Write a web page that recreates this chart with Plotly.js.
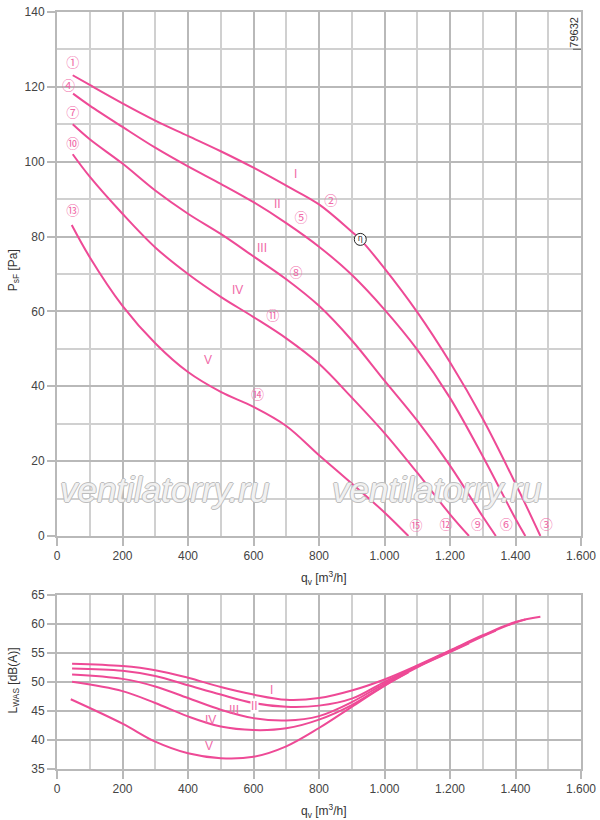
<!DOCTYPE html>
<html>
<head>
<meta charset="utf-8">
<script src="https://cdn.plot.ly/plotly-3.0.1.min.js"></script>
<style>
  html, body { margin: 0; padding: 0; background: #fff; }
  #myDiv { width: 600px; height: 820px; }
</style>
</head>
<body>
<div id="myDiv"></div>
<script>
// pressure curves psF [Pa] vs qv [m3/h], speeds I..V
var qI   = [48, 100, 200, 300, 400, 500, 600, 700, 800, 900, 926, 1000, 1100, 1200, 1300, 1400, 1476];
var pI   = [123.1, 120.5, 115.6, 111, 106.9, 102.8, 98.4, 93.6, 88.6, 81.3, 79.25, 71.5, 59.8, 46.4, 31.3, 14, 0];
var qII  = [49, 100, 200, 300, 400, 500, 600, 700, 800, 900, 1000, 1100, 1200, 1300, 1400, 1430];
var pII  = [118.2, 115, 109.3, 103.75, 98.75, 94.1, 89.2, 83.6, 77.3, 69.8, 60.5, 49.8, 36.9, 21.3, 4.6, 0];
var qIII = [48, 100, 200, 300, 400, 500, 600, 700, 800, 900, 1000, 1100, 1200, 1300, 1340];
var pIII = [110, 106, 99.5, 92.3, 86.1, 80.7, 74.7, 68.6, 61.5, 52.3, 41.5, 30.8, 18.8, 5.2, 0];
var qIV  = [48, 100, 200, 300, 400, 500, 600, 700, 800, 900, 1000, 1100, 1200, 1258];
var pIV  = [102, 96, 86.1, 77.1, 70, 63.9, 58.5, 52.8, 46, 37, 27.5, 16.9, 5.8, 0];
var qV   = [45, 100, 200, 300, 400, 500, 600, 700, 800, 900, 1000, 1073];
var pV   = [83.1, 74.5, 61.5, 51.5, 43.8, 38.5, 34.5, 29.4, 21.6, 14, 6.3, 0];

// sound power LWAS [dB(A)] vs qv
var sqI   = [46, 200, 300, 400, 500, 600, 700, 800, 900, 1000, 1100, 1200, 1300, 1400, 1476];
var lI    = [53.1, 52.7, 52, 50.7, 49.1, 47.8, 46.9, 47.2, 48.5, 50.4, 52.8, 55.4, 58, 60.3, 61.2];
var sqII  = [46, 200, 300, 400, 500, 600, 700, 800, 900, 1000, 1100, 1200, 1300, 1400, 1430];
var lII   = [52.3, 51.9, 51, 49.4, 47.8, 46.35, 45.7, 45.9, 47.1, 50, 52.7, 55.3, 57.9, 60.2, 60.7];
var sqIII = [46, 200, 300, 400, 500, 600, 700, 800, 900, 1000, 1100, 1200, 1300, 1340];
var lIII  = [51.25, 50.5, 49.2, 47.2, 45.2, 43.75, 43.35, 44.1, 46.5, 49.7, 52.6, 55.2, 57.8, 58.8];
var sqIV  = [46, 200, 300, 400, 500, 600, 700, 800, 900, 1000, 1100, 1200, 1258];
var lIV   = [50, 48.4, 46.35, 44.05, 42.3, 41.7, 42, 43.5, 46, 49.4, 52.5, 55.1, 56.6];
var sqV   = [42, 200, 300, 400, 500, 600, 700, 800, 900, 1000, 1073];
var lV    = [47, 42.8, 39.7, 37.7, 36.85, 37.1, 38.9, 42.05, 45.7, 49.3, 51.6];

// circled point numbers on the pressure chart
var numText = ['①','②','③','④','⑤','⑥','⑦','⑧','⑨','⑩','⑪','⑫','⑬','⑭','⑮'];
var numX    = [48, 836, 1494, 35, 745, 1372, 48, 730, 1284, 48, 659, 1188, 48, 612, 1096];
var numY    = [126.2, 89.2, 2.8, 120.1, 84.8, 2.8, 112.7, 70.1, 2.8, 104.6, 58.5, 2.8, 86.5, 37.5, 2.5];

// best efficiency point
var etaX = [926];
var etaY = [79.25];

// roman speed labels
var romans = ['I', 'II', 'III', 'IV', 'V'];
var romTopX = [727, 674, 625, 551, 462];
var romTopY = [96.8, 88.6, 77, 65.6, 46.9];
var romBotX = [655, 604, 540, 469, 465];
var romBotY = [48.65, 45.9, 45.2, 43.4, 39];

var pink = '#ee4a96';
var pinkText = '#f06aa8';
var gridMajor = '#b9b9b9';
var gridMinor = '#d0d0d0';

function curve(x, y, xa, ya) {
  return {
    x: x, y: y, xaxis: xa, yaxis: ya,
    mode: 'lines', type: 'scatter',
    line: { color: pink, width: 2, shape: 'spline', smoothing: 1 },
    hoverinfo: 'skip'
  };
}

var data = [
  curve(qI, pI, 'x', 'y'),
  curve(qII, pII, 'x', 'y'),
  curve(qIII, pIII, 'x', 'y'),
  curve(qIV, pIV, 'x', 'y'),
  curve(qV, pV, 'x', 'y'),
  curve(sqI, lI, 'x2', 'y2'),
  curve(sqII, lII, 'x2', 'y2'),
  curve(sqIII, lIII, 'x2', 'y2'),
  curve(sqIV, lIV, 'x2', 'y2'),
  curve(sqV, lV, 'x2', 'y2'),
  {
    x: numX, y: numY, xaxis: 'x', yaxis: 'y',
    mode: 'text', type: 'scatter', text: numText,
    textposition: 'middle center',
    textfont: { family: 'Noto Sans CJK JP', size: 13, color: pinkText },
    hoverinfo: 'skip'
  },
  {
    x: etaX, y: etaY, xaxis: 'x', yaxis: 'y',
    mode: 'markers+text', type: 'scatter', text: ['η'],
    textposition: 'middle center',
    textfont: { family: 'DejaVu Sans', size: 8, color: '#222' },
    marker: { symbol: 'circle', size: 12, color: '#fff', line: { color: '#222', width: 1 } },
    hoverinfo: 'skip'
  }
];

var tickFont = { family: 'Liberation Sans, Arial, sans-serif', size: 12, color: '#444' };

var xMinor = [100, 300, 500, 700, 900, 1100, 1300, 1500];

function xAxis(anchor) {
  return {
    anchor: anchor, domain: [0, 1], range: [0, 1600],
    tick0: 0, dtick: 200, separatethousands: true,
    showgrid: true, gridcolor: gridMajor, gridwidth: 2,
    minor: { tickmode: 'array', tickvals: xMinor, showgrid: true, gridcolor: gridMinor, gridwidth: 2, ticks: '' },
    ticks: 'outside', ticklen: 8, tickcolor: gridMajor, tickwidth: 2,
    showline: true, linecolor: gridMajor, linewidth: 2, mirror: true,
    zeroline: false, tickfont: tickFont
  };
}

function yAxis(anchor, domain, range, dtick, minorVals) {
  var ax = {
    anchor: anchor, domain: domain, range: range,
    dtick: dtick, tick0: 0,
    showgrid: true, gridcolor: gridMajor, gridwidth: 2,
    ticks: 'outside', ticklen: 8, tickcolor: gridMajor, tickwidth: 2,
    showline: true, linecolor: gridMajor, linewidth: 2, mirror: true,
    zeroline: false, tickfont: tickFont
  };
  if (minorVals) ax.minor = { tickmode: 'array', tickvals: minorVals, showgrid: true, gridcolor: gridMinor, gridwidth: 2, ticks: '' };
  return ax;
}

var titleFont = { family: 'Liberation Sans, Arial, sans-serif', size: 12, color: '#333' };
var wmFont = {
  family: 'Liberation Sans, Arial, sans-serif', size: 35, style: 'italic',
  color: '#f1f1f1',
  shadow: '1px 0 0 #bdbdbd, -1px 0 0 #bdbdbd, 0 1px 0 #bdbdbd, 0 -1px 0 #bdbdbd'
};

var annotations = [
  { xref: 'paper', yref: 'paper', x: 0.51, y: 0.2525, text: 'q<sub>v</sub> [m<sup>3</sup>/h]',
    showarrow: false, font: titleFont, xanchor: 'center', yanchor: 'middle' },
  { xref: 'paper', yref: 'paper', x: 0.51, y: -0.055, text: 'q<sub>v</sub> [m<sup>3</sup>/h]',
    showarrow: false, font: titleFont, xanchor: 'center', yanchor: 'middle' },
  { xref: 'paper', yref: 'paper', x: -0.082, y: 0.659, text: 'P<sub>sF</sub> [Pa]', textangle: -90,
    showarrow: false, font: titleFont, xanchor: 'center', yanchor: 'middle' },
  { xref: 'paper', yref: 'paper', x: -0.082, y: 0.117, text: 'L<sub>WAS</sub> [dB(A)]', textangle: -90,
    showarrow: false, font: titleFont, xanchor: 'center', yanchor: 'middle' },
  { xref: 'paper', yref: 'paper', x: 0.986, y: 0.9735, text: '79632', textangle: -90,
    showarrow: false, font: { family: 'Liberation Sans, Arial, sans-serif', size: 11, color: '#333' },
    xanchor: 'center', yanchor: 'middle' },
  { xref: 'x', yref: 'y', x: 327, y: 12.3, text: 'ventilatorry.ru', showarrow: false, font: wmFont },
  { xref: 'x', yref: 'y', x: 1158, y: 12.3, text: 'ventilatorry.ru', showarrow: false, font: wmFont }
];

for (var i = 0; i < romans.length; i++) {
  annotations.push({
    xref: 'x', yref: 'y', x: romTopX[i], y: romTopY[i], text: romans[i], showarrow: false,
    font: { family: 'Liberation Sans Narrow, Liberation Sans, sans-serif', size: 12, color: pinkText }
  });
  annotations.push({
    xref: 'x2', yref: 'y2', x: romBotX[i], y: romBotY[i], text: romans[i], showarrow: false,
    bgcolor: i === 1 ? '#fff' : 'rgba(0,0,0,0)', borderpad: 0,
    font: { family: 'Liberation Sans Narrow, Liberation Sans, sans-serif', size: 12, color: pinkText }
  });
}

var layout = {
  width: 600, height: 820,
  margin: { l: 57, r: 19, t: 12, b: 51 },
  paper_bgcolor: '#fff', plot_bgcolor: '#fff',
  showlegend: false,
  separators: ',.',
  xaxis: xAxis('y'),
  yaxis: yAxis('x', [0.3078, 1], [0, 140], 20, [10, 30, 50, 70, 90, 110, 130]),
  xaxis2: xAxis('y2'),
  yaxis2: yAxis('x2', [0, 0.2304], [35, 65], 5, null),
  annotations: annotations,
  shapes: [
    { type: 'line', xref: 'paper', yref: 'paper', x0: 0.9847, x1: 1, y0: 0.9508, y1: 0.9508,
      line: { color: '#555', width: 1 } }
  ]
};

Plotly.newPlot('myDiv', data, layout, { staticPlot: true });
</script>
</body>
</html>
